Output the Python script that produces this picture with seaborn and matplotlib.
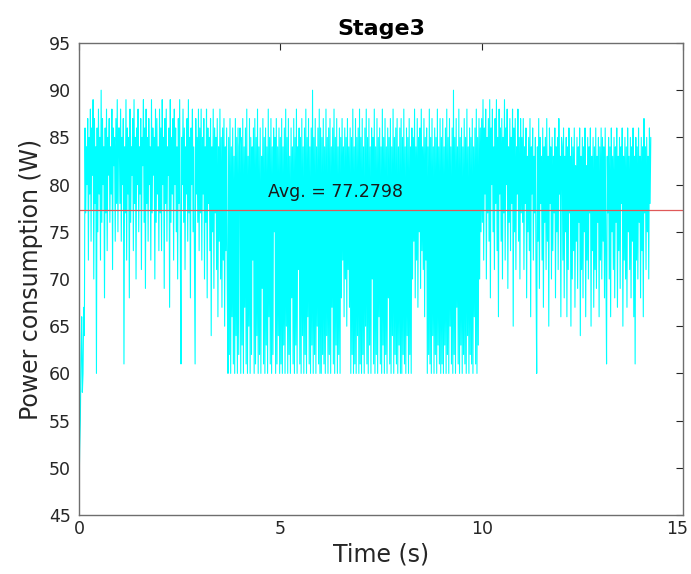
import numpy as np
import matplotlib
matplotlib.use("Agg")
import matplotlib.pyplot as plt
import matplotlib.transforms as mtransforms
import seaborn as sns

# Power samples per one-second segment (W)
seg_00 = [47, 52, 55, 62, 66, 58, 60, 67, 64, 86, 77, 84, 80, 87, 72, 85, 79, 88, 74, 86, 81, 89, 70, 87, 78, 84, 60, 86, 75, 88,
          79, 85, 72, 90, 76, 87, 80, 84, 68, 86, 77, 88, 73, 85, 81, 87, 76, 84, 79, 88, 71, 86, 82, 85, 74, 87, 78, 89, 75, 86]
seg_01 = [86, 78, 88, 74, 85, 80, 87, 61, 84, 77, 89, 72, 86, 79, 85, 68, 88, 76, 84, 81, 87, 73, 89, 78, 85, 70, 86, 80, 88, 75,
          84, 79, 87, 71, 85, 82, 89, 76, 86, 69, 88, 78, 85, 74, 87, 80, 84, 72, 89, 77, 86, 81, 85, 70, 88, 76, 87, 79, 84, 73]
seg_02 = [88, 77, 86, 73, 89, 80, 85, 69, 87, 78, 88, 74, 84, 81, 86, 67, 89, 76, 85, 79, 87, 72, 88, 80, 86, 75, 84, 70, 87, 78,
          89, 73, 61, 85, 80, 88, 76, 86, 71, 84, 79, 87, 74, 89, 77, 85, 68, 86, 80, 88, 75, 84, 72, 61, 87, 79, 85, 76, 88, 73]
seg_03 = [86, 77, 88, 72, 85, 79, 87, 70, 84, 76, 88, 68, 86, 78, 85, 73, 87, 64, 84, 75, 88, 69, 86, 77, 85, 71, 87, 66, 84, 74,
          88, 70, 85, 67, 86, 72, 87, 65, 84, 73, 86, 69, 60, 85, 62, 87, 60, 84, 66, 86, 61, 83, 60, 87, 64, 85, 60, 86, 62, 84]
seg_04 = [86, 60, 85, 63, 87, 60, 84, 67, 86, 61, 88, 60, 83, 65, 87, 60, 85, 62, 84, 72, 86, 60, 87, 61, 85, 64, 88, 60, 84, 62,
          86, 60, 83, 69, 87, 61, 85, 60, 86, 63, 84, 60, 88, 66, 85, 61, 87, 60, 84, 62, 86, 75, 85, 60, 87, 61, 84, 64, 86, 60]
seg_05 = [85, 61, 87, 60, 84, 63, 86, 60, 88, 65, 85, 60, 87, 62, 83, 60, 86, 68, 84, 61, 87, 60, 85, 63, 88, 60, 84, 71, 86, 61,
          85, 60, 87, 64, 84, 60, 86, 62, 88, 60, 85, 66, 87, 61, 84, 60, 86, 63, 90, 60, 85, 62, 87, 60, 84, 65, 86, 61, 88, 60]
seg_06 = [86, 60, 85, 62, 87, 61, 84, 60, 88, 64, 85, 60, 86, 62, 87, 60, 84, 67, 86, 61, 88, 60, 85, 63, 87, 60, 84, 62, 86, 60,
          85, 68, 87, 72, 84, 66, 86, 70, 85, 65, 87, 71, 84, 67, 86, 60, 85, 62, 88, 60, 84, 61, 87, 60, 85, 64, 86, 60, 88, 61]
seg_07 = [85, 60, 87, 62, 84, 60, 86, 65, 88, 61, 85, 60, 87, 63, 84, 60, 86, 70, 85, 61, 88, 60, 84, 62, 87, 60, 85, 66, 86, 61,
          84, 60, 88, 63, 85, 60, 87, 62, 84, 60, 86, 68, 85, 61, 87, 60, 84, 64, 88, 60, 85, 62, 86, 61, 87, 60, 84, 63, 86, 60]
seg_08 = [87, 60, 85, 62, 88, 61, 84, 60, 86, 64, 85, 60, 87, 62, 84, 60, 86, 70, 85, 74, 88, 68, 84, 72, 87, 67, 85, 75, 86, 69,
          88, 73, 84, 71, 87, 66, 85, 72, 86, 60, 84, 62, 88, 61, 85, 60, 87, 64, 84, 60, 86, 62, 85, 60, 88, 63, 84, 61, 87, 60]
seg_09 = [85, 61, 87, 60, 84, 63, 86, 60, 88, 62, 85, 60, 87, 65, 84, 61, 86, 60, 90, 62, 85, 60, 87, 67, 84, 61, 88, 60, 85, 63,
          86, 60, 84, 62, 87, 61, 85, 60, 88, 64, 84, 60, 86, 62, 85, 61, 87, 60, 84, 66, 86, 61, 88, 60, 85, 63, 87, 70, 86, 75]
seg_10 = [87, 76, 89, 72, 86, 79, 88, 70, 85, 77, 87, 74, 89, 68, 86, 80, 88, 75, 84, 71, 87, 78, 89, 73, 85, 66, 88, 79, 86, 74,
          87, 70, 85, 77, 89, 72, 86, 80, 88, 69, 84, 76, 87, 73, 85, 78, 88, 65, 86, 75, 87, 71, 84, 79, 88, 74, 85, 70, 87, 77]
seg_11 = [85, 76, 87, 71, 84, 78, 86, 68, 83, 75, 85, 73, 87, 66, 84, 79, 86, 72, 83, 77, 85, 70, 60, 84, 74, 87, 69, 85, 78, 83,
          72, 86, 67, 84, 76, 85, 71, 87, 74, 83, 65, 86, 78, 84, 70, 85, 73, 83, 77, 86, 68, 84, 75, 85, 71, 87, 79, 83, 66, 85]
seg_12 = [84, 72, 86, 68, 83, 75, 85, 66, 84, 71, 86, 77, 83, 65, 85, 70, 84, 73, 86, 67, 82, 74, 85, 69, 84, 76, 86, 64, 83, 71,
          85, 68, 84, 75, 86, 66, 82, 72, 85, 70, 84, 77, 86, 65, 83, 73, 85, 67, 84, 71, 86, 69, 83, 76, 85, 66, 84, 72, 86, 70]
seg_13 = [85, 74, 84, 68, 86, 72, 61, 83, 77, 85, 70, 84, 66, 86, 75, 83, 71, 85, 68, 84, 76, 86, 67, 83, 73, 85, 69, 84, 78, 86,
          65, 83, 72, 85, 70, 84, 67, 86, 75, 83, 71, 85, 68, 84, 74, 86, 66, 83, 61, 85, 72, 84, 70, 86, 76, 83, 68, 85, 73, 84,
          66, 87, 77, 84, 71, 85, 75, 83, 70, 86, 78, 85]

segments = [seg_00, seg_01, seg_02, seg_03, seg_04, seg_05, seg_06,
            seg_07, seg_08, seg_09, seg_10, seg_11, seg_12, seg_13]
seg_starts = [0, 1, 2, 3, 4, 5, 6, 7, 8, 9, 10, 11, 12, 13]
seg_ends = [1, 2, 3, 4, 5, 6, 7, 8, 9, 10, 11, 12, 13, 14.2]

avg_value = 77.2798
title = "Stage3"
x_label = "Time (s)"
y_label = "Power consumption (W)"
x_ticks = [0, 5, 10, 15]
y_ticks = [45, 50, 55, 60, 65, 70, 75, 80, 85, 90, 95]

time = np.concatenate([
    np.linspace(s, e, len(v), endpoint=(i == len(segments) - 1))
    for i, (s, e, v) in enumerate(zip(seg_starts, seg_ends, segments))
])
power = np.concatenate([np.array(v, dtype=float) for v in segments])

sns.set_style("white")
plt.rcParams["font.family"] = ["DejaVu Sans"]

fig = plt.figure(figsize=(6.91, 5.74), dpi=100)
ax = fig.add_axes([79 / 691, 59 / 574, 604 / 691, 472 / 574])

sns.lineplot(x=time, y=power, ax=ax, color=(0, 1, 1), linewidth=0.8,
             estimator=None, sort=False)
ax.axhline(avg_value, color=(0.88, 0.35, 0.35), linewidth=0.9)
ax.text(4.7, avg_value + 1.0, f"Avg. = {avg_value}", fontsize=12.5,
        color="#1a1a1a", ha="left", va="bottom")

ax.set_xlim(0, 15)
ax.set_ylim(45, 95)
ax.set_xticks(x_ticks)
ax.set_yticks(y_ticks)
ax.tick_params(direction="in", top=True, right=True, length=5,
               labelsize=12.5, colors="#262626", width=0.8)
ax.tick_params(axis="y", pad=6)
for sp in ax.spines.values():
    sp.set_color("#6e6e6e")
    sp.set_linewidth(1.0)
ax.set_xlabel(x_label, fontsize=17, color="#262626", labelpad=3)
ax.set_ylabel(y_label, fontsize=17, color="#262626", labelpad=4)
ax.set_title(title, fontsize=16, fontweight="bold", color="black", pad=6)

# keep the last x tick label inside the canvas, as in the reference
last_lbl = ax.get_xticklabels()[-1]
last_lbl.set_transform(last_lbl.get_transform() +
                       mtransforms.ScaledTranslation(-0.06, 0, fig.dpi_scale_trans))

fig.savefig("out.png", dpi=100)
